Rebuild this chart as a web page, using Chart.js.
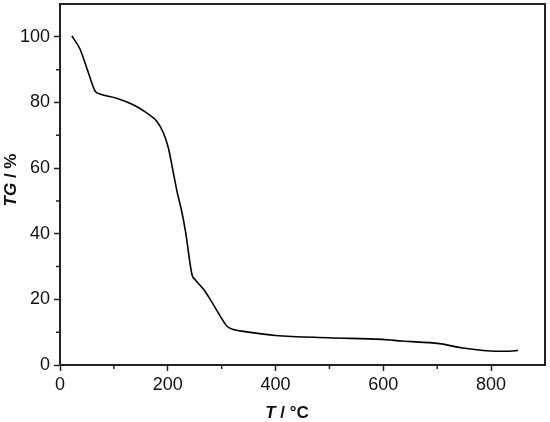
<!DOCTYPE html>
<html>
<head>
<meta charset="utf-8">
<script src="https://cdn.jsdelivr.net/npm/chart.js@4.4.1/dist/chart.umd.min.js"></script>
<style>
  html, body { margin: 0; padding: 0; background: #fff; }
  #wrap { width: 550px; height: 422px; }
</style>
</head>
<body>
<div id="wrap"><canvas id="tgChart" width="550" height="422"></canvas></div>
<script>
// TG curve
const temps = [22, 37, 53, 65, 74, 105, 136, 161, 180, 192, 201, 211, 217, 226, 233, 245, 251, 267, 279, 294, 310, 322, 347, 400, 499, 598, 635, 704, 747, 809, 834, 850];
const tgValues = [100.3, 96.3, 88.9, 83.5, 82.6, 81.3, 79.3, 76.8, 74.2, 70.7, 66.2, 58.0, 53.0, 46.7, 40.6, 27.5, 26.0, 22.9, 19.9, 15.8, 11.8, 10.8, 10.1, 9.0, 8.3, 7.8, 7.3, 6.5, 5.2, 4.2, 4.2, 4.4];

const xMajor = 200, xMinor = 100;
const yMajor = 20, yMinor = 10;

const axisColor = '#222';
const fontFamily = 'Arial, "Liberation Sans", sans-serif';

// frame, minor ticks and mixed-style axis titles
const framePlugin = {
    id: 'frame',
    afterDraw(chart) {
        const ctx = chart.ctx;
        const a = chart.chartArea;
        const xs = chart.scales.x, ys = chart.scales.y;
        ctx.save();
        ctx.strokeStyle = axisColor;
        ctx.lineWidth = 2;
        ctx.beginPath();
        ctx.moveTo(a.left, a.top);
        ctx.lineTo(a.right, a.top);
        ctx.lineTo(a.right, a.bottom);
        ctx.stroke();

        // minor ticks, shorter than the major ones
        ctx.lineWidth = 1.5;
        ctx.beginPath();
        for (let v = xMinor; v < xs.max; v += xMajor) {
            const px = xs.getPixelForValue(v);
            ctx.moveTo(px, a.bottom);
            ctx.lineTo(px, a.bottom + 4);
        }
        for (let v = yMinor; v < ys.max; v += yMajor) {
            const py = ys.getPixelForValue(v);
            ctx.moveTo(a.left, py);
            ctx.lineTo(a.left - 4, py);
        }
        ctx.stroke();

        ctx.fillStyle = '#111';
        ctx.textBaseline = 'middle';

        // x title: T / °C
        const xt = [['italic bold 17px ' + fontFamily, 'T'], ['bold 17px ' + fontFamily, ' / \u00B0C']];
        drawMixed(ctx, xt, 287, 413);

        // y title: TG / %
        ctx.translate(11, 180);
        ctx.rotate(-Math.PI / 2);
        const yt = [['italic bold 17px ' + fontFamily, 'TG'], ['bold 17px ' + fontFamily, ' / %']];
        drawMixed(ctx, yt, 0, 0);
        ctx.restore();
    }
};

function drawMixed(ctx, parts, cx, cy) {
    let total = 0;
    parts.forEach(p => { ctx.font = p[0]; total += ctx.measureText(p[1]).width; });
    let x = cx - total / 2;
    ctx.textAlign = 'left';
    parts.forEach(p => {
        ctx.font = p[0];
        ctx.fillText(p[1], x, cy);
        x += ctx.measureText(p[1]).width;
    });
}

const points = temps.map((t, i) => ({ x: t, y: tgValues[i] }));

new Chart(document.getElementById('tgChart'), {
    type: 'line',
    data: {
        datasets: [{
            label: 'TG',
            data: points,
            borderColor: '#000',
            borderWidth: 1.6,
            pointRadius: 0,
            fill: false,
            cubicInterpolationMode: 'monotone'
        }]
    },
    options: {
        responsive: false,
        animation: false,
        events: [],
        layout: { padding: { top: 4, right: 5, left: 0, bottom: 0 } },
        plugins: {
            legend: { display: false },
            tooltip: { enabled: false }
        },
        scales: {
            x: {
                type: 'linear',
                min: 0,
                max: 900,
                afterFit(scale) {
                    scale.height = 57;
                    scale.paddingLeft = 0;
                    scale.paddingRight = 0;
                },
                border: { display: true, color: axisColor, width: 2 },
                grid: { drawOnChartArea: false, tickLength: 6, tickWidth: 1.5, tickColor: axisColor },
                ticks: {
                    stepSize: xMajor,
                    includeBounds: false,
                    padding: 3,
                    color: '#111',
                    font: { family: fontFamily, size: 18 },
                    maxRotation: 0
                }
            },
            y: {
                min: 0,
                max: 110,
                afterFit(scale) {
                    scale.width = 60;
                    scale.paddingTop = 0;
                    scale.paddingBottom = 0;
                },
                border: { display: true, color: axisColor, width: 2 },
                grid: { drawOnChartArea: false, tickLength: 6, tickWidth: 1.5, tickColor: axisColor },
                ticks: {
                    stepSize: yMajor,
                    includeBounds: false,
                    padding: 4,
                    color: '#111',
                    font: { family: fontFamily, size: 18 }
                }
            }
        }
    },
    plugins: [framePlugin]
});
</script>
</body>
</html>
